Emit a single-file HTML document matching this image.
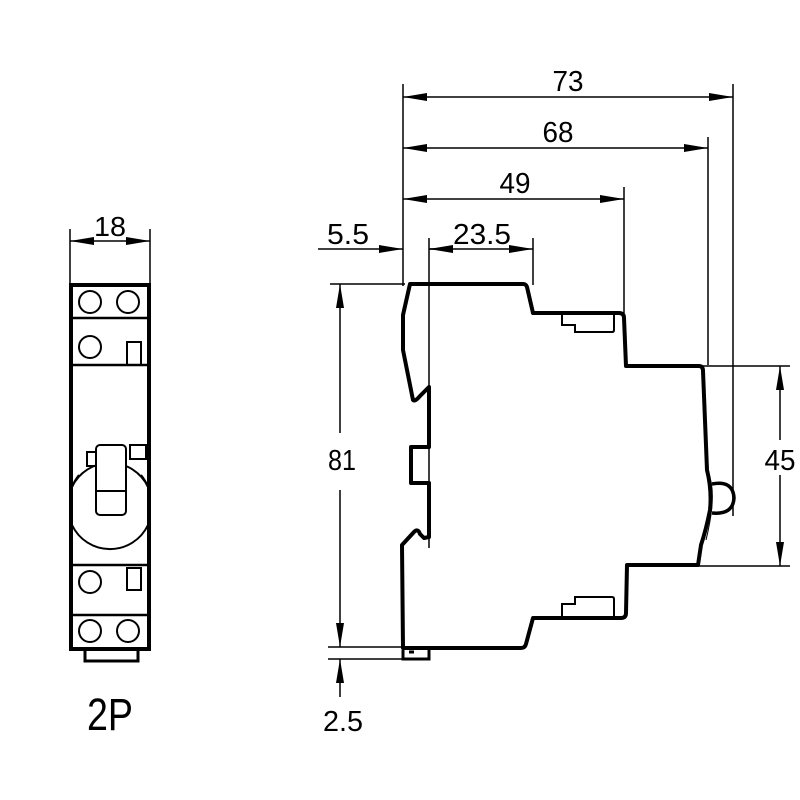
<!DOCTYPE html>
<html><head><meta charset="utf-8"><style>html,body{margin:0;padding:0;background:#fff}svg{display:block}text{font-family:"Liberation Sans",sans-serif;fill:#000}</style></head>
<body>
<svg width="800" height="800" viewBox="0 0 800 800" xmlns="http://www.w3.org/2000/svg">
<defs>
<marker id="a" viewBox="0 0 24 8" refX="24" refY="4" markerWidth="24" markerHeight="8" markerUnits="userSpaceOnUse" orient="auto-start-reverse"><path d="M0,0 L24,4 L0,8 z" fill="#000"/></marker>
</defs>
<g stroke="#000" fill="none">
<!-- left view -->
<g stroke-width="1.5">
<line x1="70" y1="229" x2="70" y2="285"/><line x1="150" y1="229" x2="150" y2="285"/>
<line x1="70" y1="241" x2="150" y2="241" marker-start="url(#a)" marker-end="url(#a)"/>
</g>
<rect x="71" y="285" width="78" height="364" stroke-width="4"/>
<g stroke-width="2.5">
<line x1="71" y1="318" x2="149" y2="318"/><line x1="71" y1="365" x2="149" y2="365"/>
<line x1="71" y1="565" x2="149" y2="565"/><line x1="71" y1="615" x2="149" y2="615"/>
</g>
<rect x="85" y="649" width="53" height="12" stroke-width="3"/>
<g stroke-width="2">
<circle cx="90" cy="302" r="11"/><circle cx="128" cy="302" r="11"/>
<circle cx="90" cy="347" r="11"/><rect x="127" y="342" width="14" height="23"/>
<circle cx="90" cy="582" r="11"/><rect x="127" y="568" width="14" height="22"/>
<circle cx="90" cy="631" r="11"/><circle cx="128" cy="631" r="11"/>
<path d="M72,487 A42,42 0 0 1 148,487 M148,525 A42,42 0 0 1 72,525"/>
<path d="M79,475 A42,42 0 0 0 72,487 M141,475 A42,42 0 0 1 148,487"/>
<rect x="87" y="452" width="9" height="14"/>
<rect x="130" y="445" width="16" height="14"/>
<rect x="96" y="445" width="30" height="70" rx="4" fill="#fff"/>
<line x1="96" y1="491" x2="126" y2="491"/>
</g>
<!-- right view dims -->
<g stroke-width="1.5">
<line x1="403" y1="84" x2="403" y2="286"/>
<line x1="733" y1="84" x2="733" y2="516"/>
<line x1="708" y1="137" x2="708" y2="365"/>
<line x1="624" y1="187" x2="624" y2="313"/>
<line x1="533" y1="238" x2="533" y2="285"/>
<line x1="429" y1="238" x2="429" y2="548"/>
<line x1="403" y1="97" x2="733" y2="97" marker-start="url(#a)" marker-end="url(#a)"/>
<line x1="403" y1="148" x2="708" y2="148" marker-start="url(#a)" marker-end="url(#a)"/>
<line x1="403" y1="199" x2="624" y2="199" marker-start="url(#a)" marker-end="url(#a)"/>
<line x1="429" y1="249" x2="533" y2="249" marker-start="url(#a)" marker-end="url(#a)"/>
<line x1="318" y1="249" x2="403" y2="249" marker-end="url(#a)"/>
<line x1="429" y1="249" x2="440" y2="249"/>
<line x1="330" y1="284" x2="405" y2="284"/>
<line x1="328" y1="647" x2="405" y2="647"/>
<line x1="328" y1="659" x2="405" y2="659"/>
<line x1="340" y1="433" x2="340" y2="284" marker-end="url(#a)"/>
<line x1="340" y1="490" x2="340" y2="647" marker-end="url(#a)"/>
<line x1="340" y1="697" x2="340" y2="659" marker-end="url(#a)"/>
<line x1="700" y1="366" x2="790" y2="366"/>
<line x1="698" y1="566" x2="790" y2="566"/>
<line x1="780" y1="440" x2="780" y2="366" marker-end="url(#a)"/>
<line x1="780" y1="475" x2="780" y2="566" marker-end="url(#a)"/>
</g>
<!-- body outline -->
<path d="M410,284 L523,284 Q526,284 527,287 L533,313 L619,313 Q624,313 624,318 L626,366 L699,366 Q703,366 703,371 L707,470 Q712,490 710,510 Q706,530 701,545 L698,565 L627,565 L626,613 Q626,618 621,618 L533,618 L526,644 Q525,648 521,648 L403,648 L402,545 L414,532 Q418,528 420,534 L424,538 L429,537 L429,483 L411,483 L411,447 L429,447 L429,387 L420,396 Q415,402 413,400 L403,350 L403,315 Z" stroke-width="4" stroke-linejoin="round"/>
<path d="M403,650 L403,659 L429,659 L429,647 M409,652 L414,652" stroke-width="3"/>
<path d="M712,484 Q733,480 734,498 Q733,515 712,513" stroke-width="3.5"/>
<path d="M709,475 Q717,495 706,540" stroke-width="1"/>
<g stroke-width="2">
<path d="M562,314 L562,325 L575,325 L575,332 L612,332 Q614,332 614,330 L614,314"/>
<path d="M562,617 L562,604 L575,604 L575,597 L612,597 Q614,597 614,599 L614,617"/>
</g>
</g>
<g text-anchor="middle">
<text x="110" y="236" font-size="28" textLength="32" lengthAdjust="spacingAndGlyphs">18</text>
<text x="110" y="730" font-size="45" textLength="46" lengthAdjust="spacingAndGlyphs">2P</text>
<text x="568" y="91" font-size="29" textLength="31" lengthAdjust="spacingAndGlyphs">73</text>
<text x="558" y="142" font-size="29" textLength="31" lengthAdjust="spacingAndGlyphs">68</text>
<text x="515" y="193" font-size="29" textLength="31" lengthAdjust="spacingAndGlyphs">49</text>
<text x="482" y="244" font-size="29" textLength="58" lengthAdjust="spacingAndGlyphs">23.5</text>
<text x="348" y="244" font-size="29" textLength="42" lengthAdjust="spacingAndGlyphs">5.5</text>
<text x="342" y="470" font-size="29" textLength="28" lengthAdjust="spacingAndGlyphs">81</text>
<text x="780" y="470" font-size="29" textLength="31" lengthAdjust="spacingAndGlyphs">45</text>
<text x="343" y="731" font-size="29" textLength="40" lengthAdjust="spacingAndGlyphs">2.5</text>
</g>
</svg>
</body></html>
